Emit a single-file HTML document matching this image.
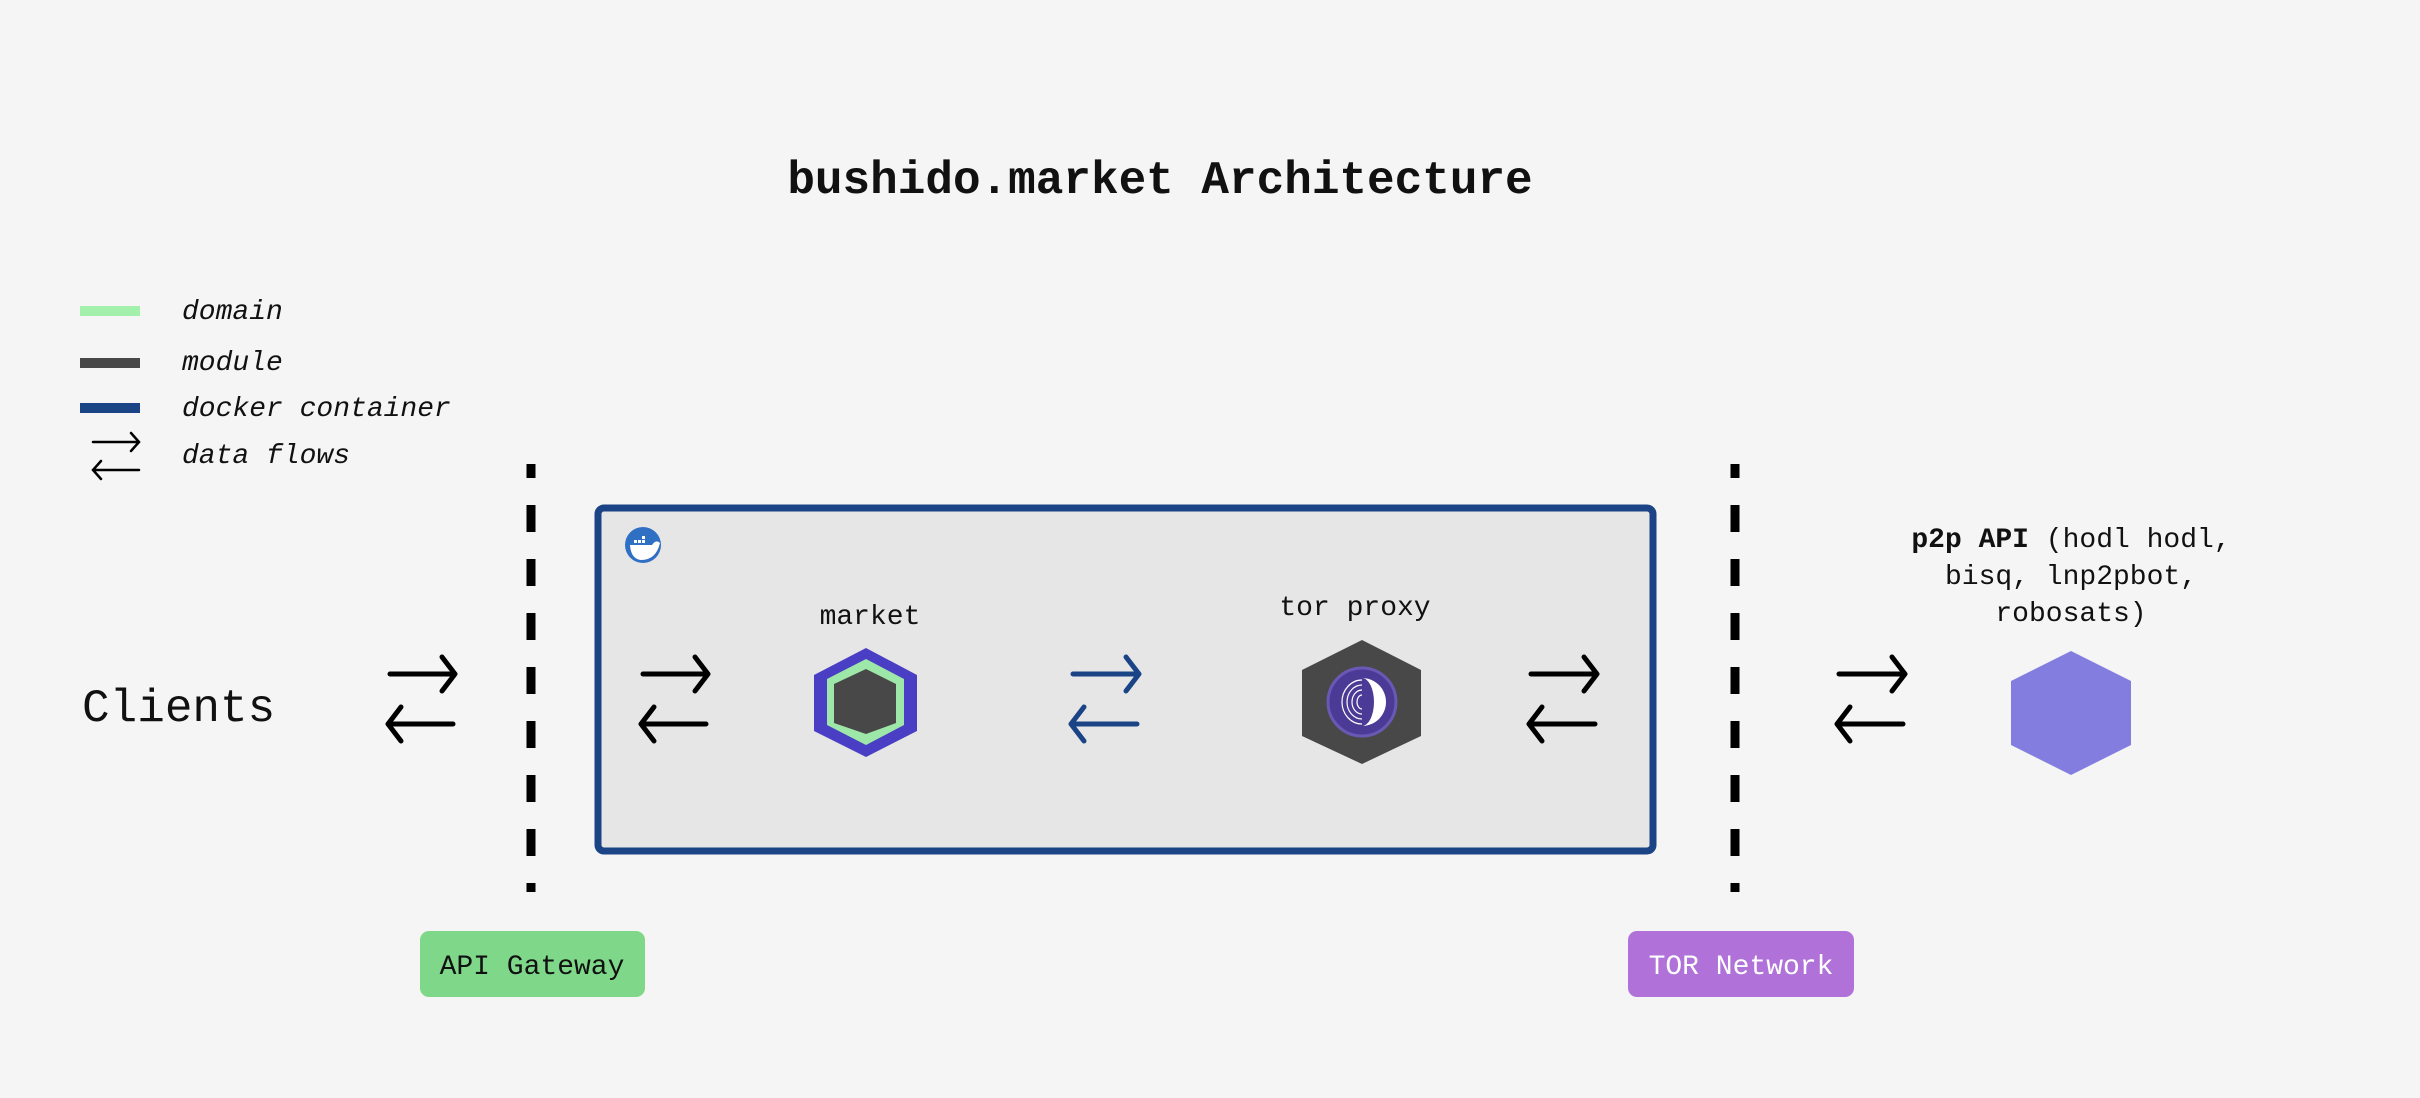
<!DOCTYPE html>
<html><head><meta charset="utf-8"><style>
html,body{margin:0;padding:0;background:#f5f5f5;}
svg{display:block;}
text{font-family:"Liberation Mono",monospace;}
</style></head><body>
<svg width="2420" height="1098" viewBox="0 0 2420 1098" xmlns="http://www.w3.org/2000/svg">
<rect width="2420" height="1098" fill="#f5f5f5"/>
<text x="1160" y="193" text-anchor="middle" font-size="46" font-weight="bold" fill="#111">bushido.market Architecture</text>

<!-- legend -->
<rect x="80" y="306" width="60" height="10" fill="#a3f0ac"/>
<rect x="80" y="358" width="60" height="10" fill="#484848"/>
<rect x="80" y="403" width="60" height="10" fill="#1b4486"/>
<g stroke="#000" stroke-width="2.5" fill="none" stroke-linecap="round">
<path d="M93 442 H139 M131 433 L139 442 L131 451"/>
<path d="M139 470 H93 M101 461 L93 470 L101 479"/>
</g>
<g font-size="28" font-style="italic" fill="#111">
<text x="182" y="319">domain</text>
<text x="182" y="370">module</text>
<text x="182" y="416">docker container</text>
<text x="182" y="463">data flows</text>
</g>

<!-- dashed lines -->
<line x1="531" y1="464" x2="531" y2="892" stroke="#000" stroke-width="9" stroke-dasharray="14 27 27 27 27 27 27 27 27 27 27 27 27 27 27 27 27"/>
<line x1="1735" y1="464" x2="1735" y2="892" stroke="#000" stroke-width="9" stroke-dasharray="14 27 27 27 27 27 27 27 27 27 27 27 27 27 27 27 27"/>

<!-- container -->
<rect x="598" y="508" width="1055" height="343" rx="6" fill="#e6e6e6" stroke="#1b4486" stroke-width="7"/>
<circle cx="643" cy="545" r="18" fill="#2f6fc4"/>
<path d="M630 545 H652 Q656 539 660 543 Q656 560 641 560 Q631 559 630 545Z" fill="#fff"/>
<g fill="#fff"><rect x="634" y="540" width="3" height="3"/><rect x="638" y="540" width="3" height="3"/><rect x="642" y="540" width="3" height="3"/><rect x="642" y="536" width="3" height="3"/></g>

<text x="870" y="624" text-anchor="middle" font-size="28" fill="#111">market</text>
<polygon points="866,648 917,675 917,731 866,757 814,731 814,675" fill="#4a3fc4"/>
<polygon points="866,659 904,679 904,725 866,745 827,725 827,679" fill="#9de8a8"/>
<polygon points="866,669 896,684 896,723 866,734 834,723 834,684" fill="#484848"/>

<text x="1355" y="615" text-anchor="middle" font-size="28" fill="#111">tor proxy</text>
<polygon points="1362,640 1421,670 1421,736 1362,764 1302,736 1302,670" fill="#484848"/>
<circle cx="1362" cy="702" r="34" fill="#4b3a96" stroke="#6a59b4" stroke-width="3"/>
<path d="M1362 678 A24 24 0 0 1 1362 726 A12 24 0 0 0 1362 678Z" fill="#fff"/>
<g fill="none" stroke="#fff" stroke-width="1.2">
<path d="M1362 680 A20 22 0 0 0 1362 724"/>
<path d="M1362 685 A15 17 0 0 0 1362 719"/>
<path d="M1362 690 A10 12 0 0 0 1362 714"/>
<path d="M1362 695 A5 7 0 0 0 1362 709"/>
</g>

<text x="2071" y="547" text-anchor="middle" font-size="28" fill="#111"><tspan font-weight="bold">p2p API</tspan> (hodl hodl,</text>
<text x="2071" y="584" text-anchor="middle" font-size="28" fill="#111">bisq, lnp2pbot,</text>
<text x="2071" y="621" text-anchor="middle" font-size="28" fill="#111">robosats)</text>
<polygon points="2071,651 2131,681 2131,745 2071,775 2011,745 2011,681" fill="#827ddf"/>

<text x="82" y="721" font-size="46" fill="#111">Clients</text>

<!-- arrows -->
<g fill="none" stroke-width="5" stroke-linecap="round" stroke-linejoin="round">
<g stroke="#000">
<path d="M390 674 H455 M442 657 L455 674 L442 691"/>
<path d="M453 724 H388 M401 707 L388 724 L401 741"/>
<path d="M643 674 H708 M695 657 L708 674 L695 691"/>
<path d="M706 724 H641 M654 707 L641 724 L654 741"/>
<path d="M1531 674 H1597 M1584 657 L1597 674 L1584 691"/>
<path d="M1595 724 H1529 M1542 707 L1529 724 L1542 741"/>
<path d="M1839 674 H1905 M1892 657 L1905 674 L1892 691"/>
<path d="M1903 724 H1837 M1850 707 L1837 724 L1850 741"/>
</g>
<g stroke="#1b4486">
<path d="M1073 674 H1139 M1126 657 L1139 674 L1126 691"/>
<path d="M1137 724 H1071 M1084 707 L1071 724 L1084 741"/>
</g>
</g>

<rect x="420" y="931" width="225" height="66" rx="9" fill="#7fd88a"/>
<text x="532" y="974" text-anchor="middle" font-size="28" fill="#111">API Gateway</text>
<rect x="1628" y="931" width="226" height="66" rx="9" fill="#b072d9"/>
<text x="1741" y="974" text-anchor="middle" font-size="28" fill="#fff">TOR Network</text>
</svg>
</body></html>
